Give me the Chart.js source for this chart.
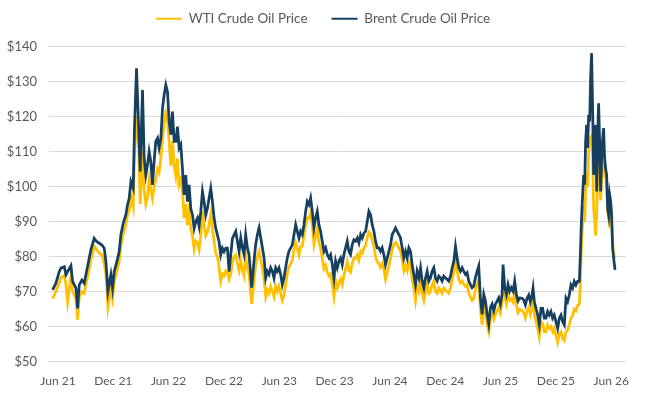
<!DOCTYPE html>
<html lang="en">
  <head>
    <meta charset="UTF-8" />
    <title>Crude Oil Prices</title>
  </head>

  <style>
    html,
    body {
      margin: 0;
      padding: 0;
      background: #ffffff;
    }
  </style>

  <body>
    <canvas id="chart_id" width="672" height="399"></canvas>
    <script src="https://cdn.jsdelivr.net/npm/chart.js@4.4.1/dist/chart.umd.min.js"></script>
    <script>
      // months since Jun 2021 (0 = Jun 21, 6 = Dec 21 ...)
      const months = [
        -0.58, -0.22, 0.14, 0.32, 0.69, 0.87, 1.05, 1.41, 1.59, 1.95, 2.13, 2.31, 2.6, 2.85, 3.03, 3.32, 3.57, 3.93, 4.19, 4.48,
        4.77, 5.02, 5.2, 5.42, 5.74, 5.92, 6.1, 6.35, 6.64, 6.82, 7.08, 7.36, 7.55, 7.73, 7.91, 8.16, 8.3, 8.52, 8.74, 8.92,
        9.17, 9.35, 9.53, 9.71, 9.89, 10.07, 10.25, 10.43, 10.61, 10.8, 10.97, 11.16, 11.34, 11.52, 11.7, 11.88, 12.06, 12.24, 12.42, 12.6,
        12.78, 12.96, 13.14, 13.32, 13.5, 13.68, 13.86, 14.04, 14.22, 14.4, 14.59, 14.77, 14.95, 15.13, 15.31, 15.49, 15.67, 15.85, 16.03, 16.21,
        16.39, 16.57, 16.75, 16.93, 17.11, 17.29, 17.47, 17.65, 17.83, 18.01, 18.2, 18.38, 18.56, 18.74, 18.92, 19.1, 19.28, 19.46, 19.64, 19.82,
        20.0, 20.18, 20.36, 20.54, 20.72, 20.9, 21.01, 21.26, 21.44, 21.63, 21.81, 21.99, 22.17, 22.35, 22.53, 22.71, 22.89, 23.07, 23.25, 23.43,
        23.61, 23.79, 23.97, 24.15, 24.33, 24.51, 24.69, 24.87, 25.05, 25.24, 25.42, 25.6, 25.78, 25.96, 26.14, 26.32, 26.5, 26.68, 26.86, 27.04,
        27.22, 27.4, 27.58, 27.76, 27.94, 28.12, 28.3, 28.48, 28.66, 28.85, 29.03, 29.21, 29.39, 29.57, 29.75, 29.93, 30.11, 30.29, 30.47, 30.65,
        30.83, 31.01, 31.19, 31.37, 31.55, 31.73, 31.91, 32.09, 32.28, 32.46, 32.64, 32.82, 33.0, 33.18, 33.36, 33.54, 33.72, 33.9, 34.08, 34.26,
        34.44, 34.62, 34.8, 34.98, 35.16, 35.34, 35.52, 35.71, 35.89, 36.07, 36.25, 36.43, 36.61, 36.79, 36.97, 37.15, 37.33, 37.51, 37.69, 37.87,
        38.05, 38.23, 38.41, 38.59, 38.77, 38.95, 39.14, 39.32, 39.5, 39.68, 39.86, 40.04, 40.22, 40.4, 40.58, 40.76, 40.94, 41.12, 41.3, 41.48,
        41.66, 41.84, 42.02, 42.2, 42.38, 42.57, 42.75, 42.93, 43.11, 43.29, 43.47, 43.65, 43.83, 44.01, 44.19, 44.37, 44.55, 44.73, 44.91, 45.09,
        45.27, 45.45, 45.63, 45.81, 46.0, 46.18, 46.36, 46.54, 46.72, 46.9, 47.08, 47.26, 47.44, 47.62, 47.8, 47.98, 48.16, 48.27, 48.45, 48.63,
        48.81, 48.99, 49.17, 49.35, 49.53, 49.71, 49.89, 50.07, 50.33, 50.51, 50.69, 50.87, 51.05, 51.23, 51.41, 51.52, 51.66, 51.84, 52.02, 52.2,
        52.38, 52.56, 52.74, 52.92, 53.1, 53.28, 53.46, 53.64, 53.82, 54.0, 54.19, 54.37, 54.55, 54.73, 54.91, 55.09, 55.27, 55.45, 55.63, 55.81,
        55.99, 56.17, 56.35, 56.54, 56.65, 56.75, 56.86, 57.01, 57.12, 57.22, 57.33, 57.44, 57.55, 57.66, 57.77, 57.87, 57.98, 58.09, 58.2, 58.31,
        58.42, 58.52, 58.63, 58.74, 58.85, 58.96, 59.07, 59.17, 59.28, 59.39, 59.5, 59.61, 59.72, 59.83, 59.94, 60.04, 60.15, 60.26, 60.41
      ];

      const brent = [
        70.5, 72.4, 75.7, 76.7, 77.1, 74.8, 75.7, 77.4, 72.9, 71.0, 65.2, 71.9, 73.3, 72.4, 74.8, 78.6, 81.9, 85.2, 84.3, 83.8,
        83.3, 82.4, 78.6, 70.0, 74.8, 71.0, 75.7, 78.1, 81.4, 86.2, 89.5, 91.9, 94.8, 96.7, 101.4, 99.5, 116.7, 133.8, 117.6, 104.3,
        127.6, 108.1, 103.3, 106.2, 110.0, 107.1, 100.5, 107.1, 112.9, 113.8, 111.0, 113.8, 122.4, 126.2, 129.0, 127.1, 118.6, 114.8, 121.4, 112.9,
        112.9, 117.1, 111.0, 112.0, 105.2, 97.6, 103.3, 95.7, 100.5, 93.8, 91.9, 88.1, 90.0, 91.0, 88.6, 92.9, 98.6, 95.7, 91.9, 93.8,
        96.7, 99.5, 95.7, 91.0, 88.1, 86.2, 84.3, 80.5, 82.4, 81.4, 82.4, 82.4, 75.7, 80.5, 85.2, 86.2, 87.2, 84.4, 81.5, 85.3,
        82.5, 80.6, 86.3, 82.5, 80.6, 74.9, 71.1, 78.7, 83.4, 86.3, 88.2, 85.3, 82.5, 79.6, 73.9, 75.8, 74.9, 76.8, 75.8, 73.9,
        76.8, 75.8, 76.8, 74.9, 72.0, 73.9, 76.8, 79.6, 81.5, 82.5, 83.4, 86.3, 89.1, 87.2, 85.3, 87.2, 86.3, 89.1, 92.9, 95.7,
        94.8, 96.7, 92.9, 88.2, 91.0, 92.9, 89.1, 87.2, 84.4, 81.5, 82.5, 80.6, 79.6, 80.5, 77.7, 73.9, 78.7, 76.8, 78.7, 79.6,
        77.7, 80.6, 82.5, 84.4, 81.5, 80.6, 83.4, 84.8, 84.4, 85.3, 83.9, 86.3, 85.3, 86.7, 87.2, 90.0, 92.9, 91.9, 89.1, 87.2,
        84.4, 82.5, 82.5, 81.5, 82.5, 80.6, 77.7, 79.6, 81.5, 83.4, 86.3, 87.2, 88.2, 87.2, 86.3, 85.3, 82.5, 79.6, 81.5, 79.6,
        82.5, 81.5, 77.7, 74.9, 72.0, 75.8, 73.9, 76.8, 73.0, 71.1, 73.9, 75.8, 73.0, 73.9, 75.8, 76.8, 73.9, 73.0, 74.4, 73.9,
        73.0, 74.4, 73.9, 73.5, 73.0, 74.4, 76.8, 78.7, 82.9, 79.6, 76.8, 75.8, 76.8, 75.8, 74.9, 75.4, 73.0, 72.0, 71.1, 71.6,
        73.9, 75.8, 77.3, 68.2, 63.5, 69.2, 67.3, 63.5, 60.7, 65.4, 66.4, 64.5, 66.4, 67.3, 68.2, 66.4, 69.2, 77.7, 71.1, 69.2,
        72.0, 70.1, 71.1, 70.1, 73.0, 69.2, 67.3, 68.2, 68.1, 67.6, 66.2, 68.1, 69.0, 67.1, 69.0, 71.0, 67.1, 65.2, 63.3, 60.5,
        65.2, 65.2, 62.4, 62.4, 64.3, 63.3, 64.3, 62.4, 63.3, 61.4, 59.5, 62.4, 63.3, 61.4, 60.5, 68.1, 67.1, 69.0, 71.9, 71.0,
        72.9, 71.9, 72.9, 72.9, 80.5, 89.0, 95.7, 103.3, 100.5, 112.9, 117.6, 111.0, 120.5, 118.6, 131.9, 138.1, 122.4, 103.3, 112.9, 117.6,
        98.6, 113.8, 123.8, 112.9, 98.6, 108.1, 113.8, 116.7, 108.1, 105.2, 103.3, 93.8, 91.9, 97.6, 95.7, 91.9, 82.4, 79.5, 76.2
      ];

      const wti = [
        68.0, 70.0, 72.5, 74.0, 74.5, 72.0, 67.0, 74.5, 70.0, 68.0, 62.0, 68.5, 70.0, 69.5, 72.0, 75.5, 79.0, 83.0, 82.0, 81.0,
        80.5, 78.0, 75.0, 65.5, 71.0, 68.0, 72.5, 75.5, 78.5, 83.0, 86.5, 89.0, 92.0, 93.0, 97.0, 94.0, 109.0, 120.0, 112.0, 95.0,
        110.0, 99.0, 95.0, 97.0, 102.0, 99.0, 96.5, 100.0, 102.0, 105.0, 104.0, 108.0, 114.0, 118.0, 121.0, 119.0, 113.0, 106.0, 113.0, 106.0,
        103.0, 108.0, 100.5, 102.0, 99.0, 91.0, 95.0, 89.0, 93.0, 88.0, 86.0, 82.0, 84.5, 84.0, 82.0, 86.0, 93.0, 89.0, 86.0, 87.0,
        89.0, 92.0, 88.0, 84.5, 81.0, 80.0, 77.0, 73.0, 75.0, 74.5, 76.0, 75.5, 73.5, 75.0, 78.5, 80.0, 80.5, 78.0, 76.0, 79.0,
        76.0, 74.5, 80.0, 76.5, 75.0, 69.5, 66.5, 73.0, 77.5, 80.0, 81.5, 79.0, 76.5, 73.5, 68.5, 70.5, 69.5, 71.5, 70.0, 68.5,
        71.5, 70.0, 71.5, 69.5, 67.5, 69.0, 72.0, 75.0, 77.0, 78.0, 79.0, 82.0, 84.0, 82.5, 80.5, 83.0, 83.0, 86.0, 89.0, 91.0,
        91.0, 92.5, 89.0, 83.5, 86.0, 88.0, 84.0, 82.5, 79.5, 76.5, 77.5, 75.5, 74.5, 75.0, 72.0, 68.5, 73.0, 71.0, 72.5, 73.5,
        72.0, 74.5, 76.5, 78.5, 76.0, 75.5, 78.0, 79.5, 79.5, 80.5, 79.0, 81.5, 81.0, 82.5, 83.0, 85.5, 87.0, 86.5, 84.5, 83.0,
        80.0, 78.5, 78.0, 77.0, 78.0, 76.5, 73.5, 75.5, 77.5, 79.5, 82.0, 83.5, 84.0, 83.5, 82.5, 81.5, 79.0, 76.0, 77.5, 76.0,
        78.5, 77.5, 73.5, 71.0, 67.5, 71.5, 70.0, 73.0, 69.5, 67.5, 70.0, 72.0, 69.5, 70.0, 72.0, 73.0, 70.0, 69.5, 71.0, 70.5,
        69.5, 71.0, 70.5, 70.0, 69.5, 71.0, 73.5, 75.5, 79.5, 76.0, 73.5, 72.5, 73.0, 72.0, 71.5, 72.0, 69.5, 68.5, 67.5, 68.0,
        70.5, 72.0, 73.5, 65.0, 60.5, 66.0, 64.0, 60.5, 58.5, 62.5, 63.5, 62.0, 63.5, 64.5, 65.5, 64.0, 67.0, 75.5, 68.5, 66.5,
        69.0, 67.5, 68.0, 67.0, 69.5, 66.0, 64.0, 65.0, 64.5, 64.0, 62.5, 64.5, 65.5, 63.5, 65.5, 67.0, 63.5, 61.5, 59.5, 57.0,
        61.5, 61.0, 58.5, 58.5, 60.5, 59.5, 60.0, 58.5, 59.5, 57.5, 55.5, 58.0, 58.5, 56.5, 56.0, 58.5, 59.0, 60.5, 62.5, 63.0,
        65.0, 64.5, 66.0, 66.5, 72.0, 82.0, 88.0, 92.0, 90.0, 98.5, 104.0, 100.0, 110.0, 113.0, 114.0, 114.5, 108.0, 94.0, 90.0, 86.0,
        92.0, 102.0, 111.0, 106.0, 96.0, 102.0, 104.0, 106.0, 105.0, 103.0, 100.0, 93.0, 91.0, 95.0, 93.0, 90.0, 84.0, 81.0, 79.5
      ];

      const tickMonths = [0, 6, 12, 18, 24, 30, 36, 42, 48, 54, 60];
      const tickLabels = ["Jun 21", "Dec 21", "Jun 22", "Dec 22", "Jun 23", "Dec 23", "Jun 24", "Dec 24", "Jun 25", "Dec 25", "Jun 26"];

      const toPoints = (vals) => vals.map((v, i) => ({ x: months[i], y: v }));
      const grey = "#595959";

      // tweak the space under the legend and nudge it right
      const legendGap = {
        id: "legendGap",
        beforeInit(chart) {
          const fit = chart.legend.fit;
          chart.legend.fit = function () {
            fit.bind(chart.legend)();
            this.height += 11;
          };
        },
        afterLayout(chart) {
          chart.legend.left += 10;
          chart.legend.right += 10;
        },
      };

      let ctx = document.getElementById("chart_id").getContext("2d");

      let chart = new Chart(ctx, {
        type: "line",
        plugins: [legendGap],
        data: {
          datasets: [
            {
              label: "WTI Crude Oil Price",
              data: toPoints(wti),
              borderColor: "#FFC000",
              backgroundColor: "#FFC000",
              borderWidth: 2.75,
              order: 2,
            },
            {
              label: "Brent Crude Oil Price",
              data: toPoints(brent),
              borderColor: "#173F5F",
              backgroundColor: "#173F5F",
              borderWidth: 2.75,
              order: 1,
            },
          ],
        },
        options: {
          responsive: false,
          animation: false,
          elements: { point: { radius: 0 }, line: { tension: 0 } },
          layout: { padding: { left: 0, right: 46, top: -12, bottom: 7 } },
          plugins: {
            tooltip: { enabled: false },
            legend: {
              position: "top",
              labels: {
                usePointStyle: true,
                pointStyle: "line",
                pointStyleWidth: 26,
                padding: 24,
                color: grey,
                font: { family: "Lato", size: 13.5 },
                sort: (a, b) => a.datasetIndex - b.datasetIndex,
                generateLabels: (c) =>
                  Chart.defaults.plugins.legend.labels.generateLabels(c).map((l) => ({ ...l, lineWidth: 2 })),
              },
            },
          },
          scales: {
            x: {
              type: "linear",
              min: -0.97,
              max: 61.6,
              grid: { display: false },
              border: { display: false },
              afterBuildTicks: (scale) => {
                scale.ticks = tickMonths.map((m) => ({ value: m }));
              },
              ticks: {
                color: grey,
                font: { family: "Lato", size: 12 },
                padding: 4,
                maxRotation: 0,
                autoSkip: false,
                callback: (v) => tickLabels[tickMonths.indexOf(v)],
              },
            },
            y: {
              min: 50,
              max: 140,
              afterFit: (scale) => {
                scale.width = 49;
              },
              grid: { color: "#D9D9D9", drawTicks: false },
              border: { display: false },
              ticks: {
                stepSize: 10,
                color: grey,
                padding: 12,
                font: { family: "Lato", size: 13 },
                callback: (v) => "$" + v,
              },
            },
          },
        },
      });
    </script>
  </body>
</html>
